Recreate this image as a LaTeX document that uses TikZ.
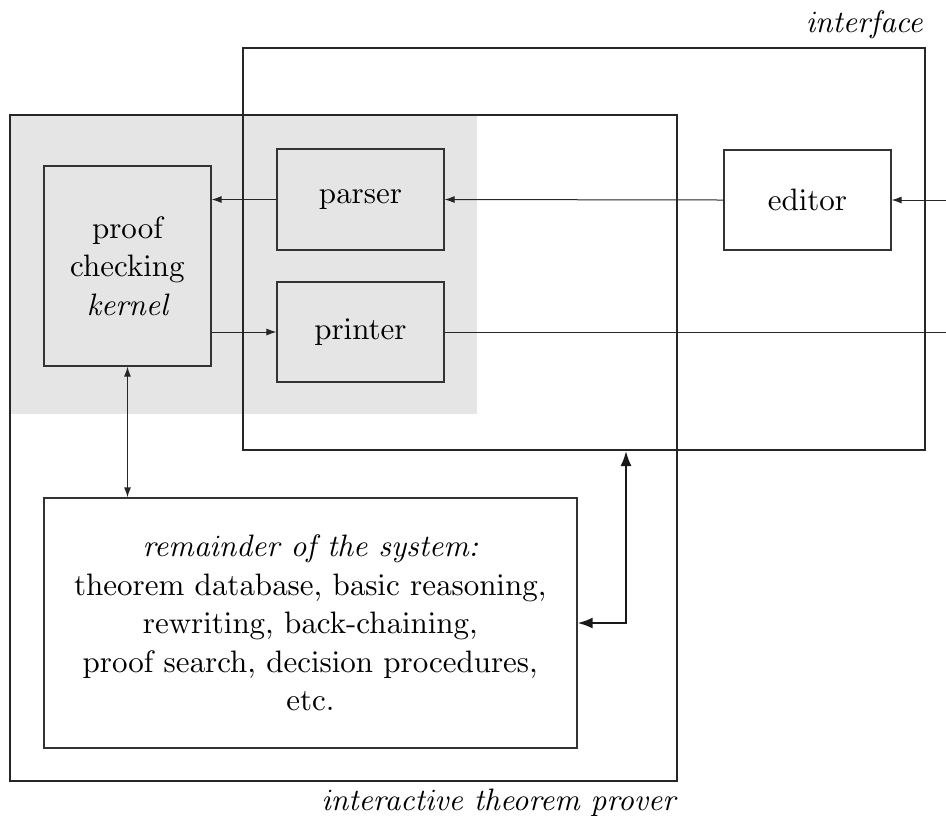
\documentclass[tikz,border=0pt]{standalone}
\usetikzlibrary{arrows.meta}
\definecolor{graybg}{HTML}{E5E5E5}
\font\diagrm=cmr10 at 15.5pt
\font\diagit=cmti10 at 15.5pt
\newcommand\diagfont{\diagrm\baselineskip=19.2pt\relax}
\begin{document}
\begin{tikzpicture}[x=0.5pt,y=-0.5pt,
  every node/.style={font=\diagfont},
  box/.style={draw=black!80, line width=0.6pt, minimum width=83.5pt, inner sep=0pt, align=center},
  frame/.style={draw=black!85, line width=1pt, inner sep=0pt},
  conn/.style={draw=black!85, line width=0.5pt},
  tip/.style={-{Latex[length=5pt,width=3.5pt]}},
  bitip/.style={{Latex[length=5pt,width=3.5pt]}-{Latex[length=5pt,width=3.5pt]}},
  bigconn/.style={draw=black!90, line width=1pt, {Latex[length=7.5pt,width=5.5pt]}-{Latex[length=7.5pt,width=5.5pt]}}
]
\useasboundingbox (0,0) rectangle (946,821);
\fill[graybg] (10,115) rectangle (477,414);
\node[frame, minimum width=341pt, minimum height=201pt] (iface) at (584,249) {};
\node[frame, minimum width=333.5pt, minimum height=333pt] (itp) at (343.5,448) {};
\node[box, minimum height=100pt] (kernel) at (127.5,266) {proof\\checking\\{\diagit kernel}};
\node[box, minimum height=50.5pt] (parser) at (360.5,199.5) {parser};
\node[box, minimum height=50pt] (printer) at (360.5,332) {printer};
\node[box, minimum height=50pt] (editor) at (807.5,200) {editor};
\node[box, minimum width=266.5pt, minimum height=125pt] (remainder) at (310.5,623)
  {{\diagit remainder of the system:}\\theorem database, basic reasoning,\\rewriting, back-chaining,\\proof search, decision procedures,\\etc.};
\coordinate (in) at (946,200);
\coordinate (out) at (946,332);
\coordinate (bend) at (626,623);
\draw[conn,tip] (in) -- (editor.east);
\draw[conn,tip] (editor.west) -- (parser.east);
\draw[conn,tip] (parser.west) -- (parser.west -| kernel.east);
\draw[conn,tip] (kernel.east |- printer.west) -- (printer.west);
\draw[conn] (printer.east) -- (out);
\draw[conn,line width=0.6pt,bitip] (kernel.south) -- (remainder.north -| kernel.south);
\draw[bigconn] (remainder.east) -- (remainder.east -| bend) -- (bend |- iface.south);
\node[anchor=base east, inner sep=0pt] (ifacelabel) at (923,32) {\diagit interface};
\node[anchor=base east, inner sep=0pt] (itplabel) at (676,810) {\diagit interactive theorem prover};
\end{tikzpicture}
\end{document}
